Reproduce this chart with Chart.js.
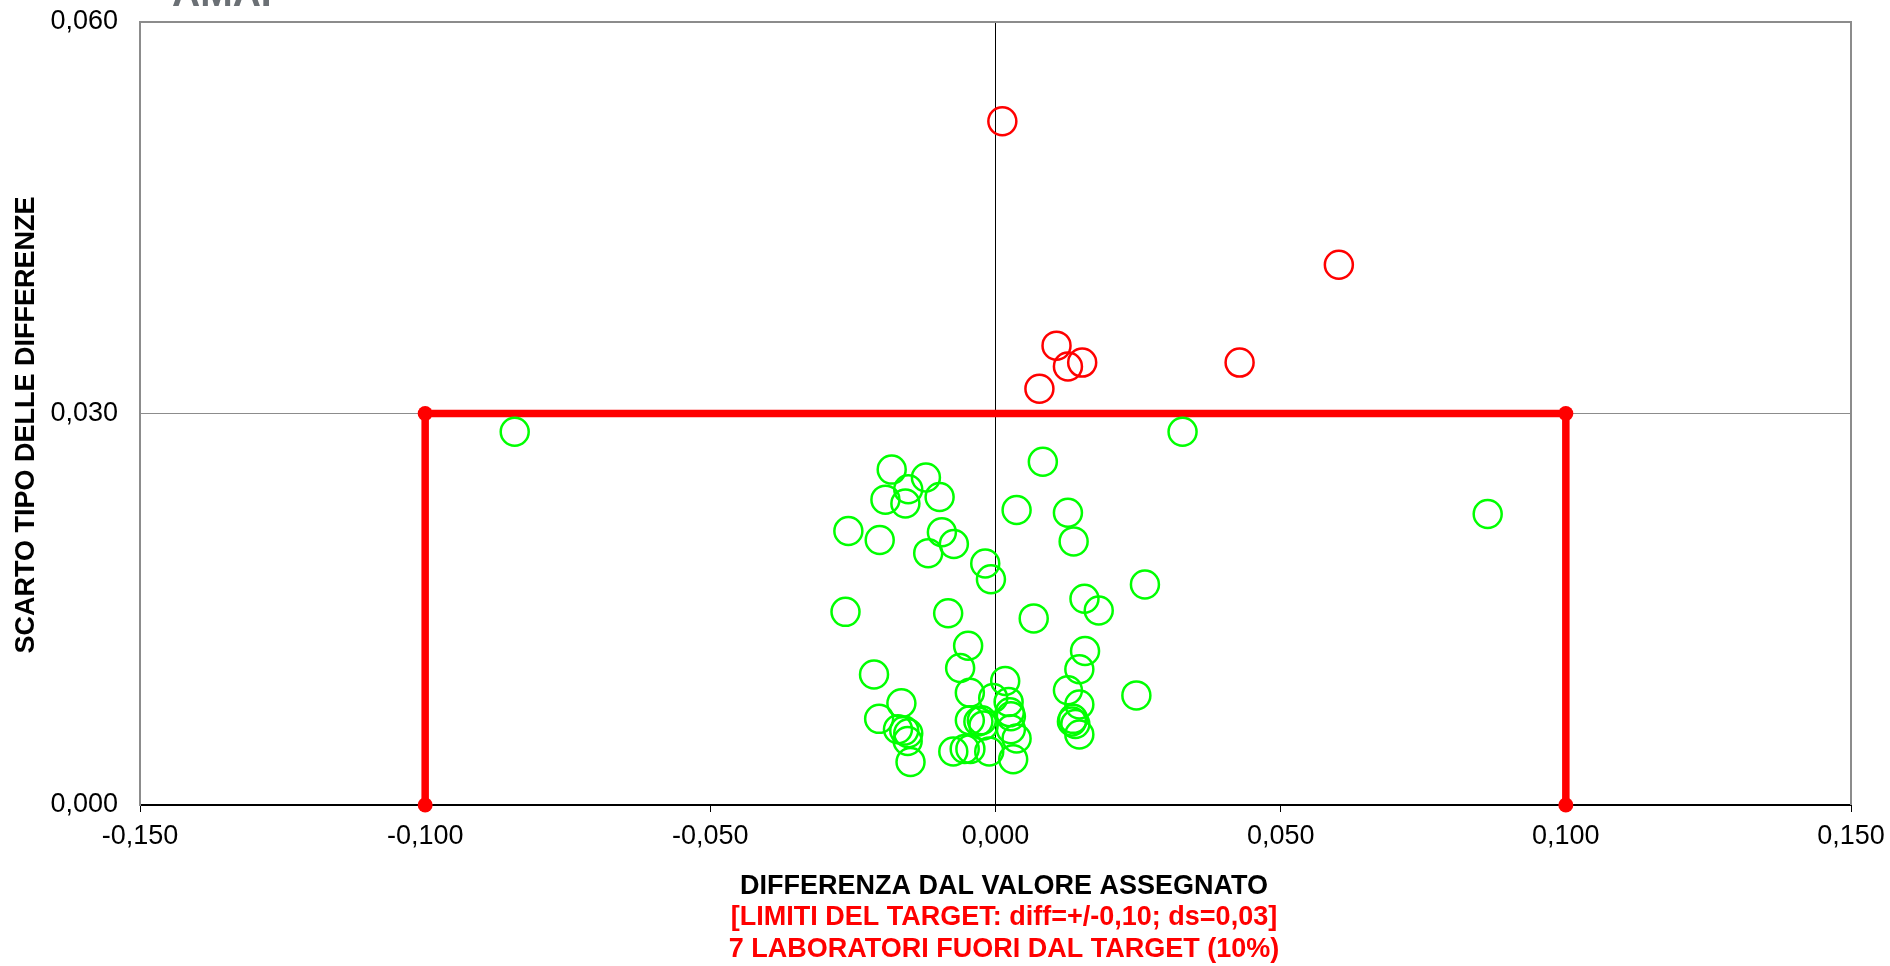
<!DOCTYPE html>
<html>
<head>
<meta charset="utf-8">
<title>Scarto tipo vs differenza</title>
<script src="https://cdn.jsdelivr.net/npm/chart.js@4.4.1/dist/chart.umd.min.js"></script>
<style>
  html, body { margin: 0; padding: 0; background: #ffffff; }
  #wrap { width: 1890px; height: 966px; position: relative; }
</style>
</head>
<body>
<div id="wrap"><canvas id="chart" width="1890" height="966"></canvas></div>
<script>
// Laboratories inside the target (difference, standard deviation of differences)
const inTargetX = [
  -0.0843, 0.0328, 0.0863, -0.0182, -0.0122, -0.0153, -0.0193, -0.0158, -0.0098, 0.0083,
  -0.0258, -0.0203, -0.0094, -0.0073, -0.0118, 0.0037, 0.0127, 0.0137, -0.0018, -0.0008,
  0.0262, 0.0156, 0.0181, 0.0067, -0.0263, -0.0083, -0.0048, -0.0062, 0.0157, 0.0147,
  -0.0213, 0.0247, 0.0127, 0.0147, 0.0134, 0.0136, 0.0147, -0.0165, -0.0204, -0.0171,
  -0.0153, -0.0154, -0.0149, 0.0017, -0.0045, -0.0004, 0.0023, -0.0045, -0.0024, 0.0027,
  -0.0021, 0.0027, 0.0037, -0.0074, -0.0054, -0.0044, -0.0011, 0.0031, -0.0030, 0.0025,
  -0.0160, 0.0140
];
const inTargetY = [
  0.0286, 0.0286, 0.0223, 0.0257, 0.0251, 0.0242, 0.0234, 0.0231, 0.0236, 0.0263,
  0.0210, 0.0203, 0.0209, 0.0200, 0.0193, 0.0226, 0.0224, 0.0202, 0.0185, 0.0173,
  0.0169, 0.0158, 0.0149, 0.0143, 0.0148, 0.0147, 0.0122, 0.0105, 0.0118, 0.0104,
  0.0100, 0.0084, 0.0088, 0.0077, 0.0064, 0.0066, 0.0054, 0.0078, 0.0066, 0.0058,
  0.0055, 0.0049, 0.0033, 0.0095, 0.0086, 0.0082, 0.0079, 0.0065, 0.0065, 0.0068,
  0.0061, 0.0058, 0.0051, 0.0041, 0.0043, 0.0043, 0.0041, 0.0035, 0.0064, 0.0071,
  0.0057, 0.0062
];

// Laboratories outside the target
const outTargetX = [0.0012, 0.0107, 0.0127, 0.0152, 0.0077, 0.0428, 0.0602];
const outTargetY = [0.0524, 0.0352, 0.0336, 0.0339, 0.0319, 0.0339, 0.0414];

// Target limits: diff = +/-0,10 ; ds = 0,03
const targetX = [-0.10, -0.10, 0.10, 0.10];
const targetY = [0.000, 0.030, 0.030, 0.000];

// Axis ticks
const xTicks = [-0.15, -0.10, -0.05, 0.00, 0.05, 0.10, 0.15];
const yTicks = [0.000, 0.030, 0.060];

// Texts
const yTitle = 'SCARTO TIPO DELLE DIFFERENZE';
const xTitle = 'DIFFERENZA DAL VALORE ASSEGNATO';
const noteLines = [
  '[LIMITI DEL TARGET: diff=+/-0,10; ds=0,03]',
  '7 LABORATORI FUORI DAL TARGET (10%)'
];
const logoText = 'AMAF';

const zip = (xs, ys) => xs.map((x, i) => ({ x: x, y: ys[i] }));
const fmt = v => v.toFixed(3).replace('.', ',');
const FONT = '"Liberation Sans", Arial, sans-serif';

// Frame, right border and the free texts around the plot
const decorations = {
  id: 'decorations',
  beforeDatasetsDraw(chart) {
    const { ctx, chartArea: a } = chart;
    ctx.save();
    ctx.strokeStyle = '#8c8c8c';
    ctx.lineWidth = 2;
    ctx.beginPath();
    ctx.moveTo(a.left, a.top);
    ctx.lineTo(a.right, a.top);
    ctx.lineTo(a.right, a.bottom);
    ctx.stroke();
    ctx.restore();
  },
  afterDraw(chart) {
    const { ctx } = chart;
    ctx.save();
    // partly hidden logo at the very top
    ctx.fillStyle = '#6b7075';
    ctx.font = 'bold 39px ' + FONT;
    ctx.textAlign = 'left';
    ctx.textBaseline = 'alphabetic';
    ctx.fillText(logoText, 172, 6);

    ctx.fillStyle = '#000000';
    ctx.font = 'bold 27px ' + FONT;
    ctx.textAlign = 'center';
    ctx.textBaseline = 'middle';
    // vertical axis title
    ctx.save();
    ctx.translate(27, 425);
    ctx.rotate(-Math.PI / 2);
    ctx.fillText(yTitle, 0, 0);
    ctx.restore();
    // horizontal axis title and notes
    const cx = 1004;
    ctx.fillText(xTitle, cx, 887);
    ctx.fillStyle = '#ff0000';
    ctx.fillText(noteLines[0], cx, 918);
    ctx.fillText(noteLines[1], cx, 950);
    ctx.restore();
  }
};

new Chart(document.getElementById('chart'), {
  type: 'scatter',
  data: {
    datasets: [
      {
        label: 'Limiti del target',
        data: zip(targetX, targetY),
        showLine: true,
        borderColor: '#ff0000',
        backgroundColor: '#ff0000',
        borderWidth: 7.5,
        pointRadius: 7.5,
        pointBorderWidth: 0,
        pointBackgroundColor: '#ff0000',
        clip: false,
        order: 3
      },
      {
        label: 'Fuori target',
        data: zip(outTargetX, outTargetY),
        borderColor: '#ff0000',
        backgroundColor: 'rgba(0,0,0,0)',
        pointRadius: 14,
        pointBorderWidth: 2.5,
        order: 1
      },
      {
        label: 'Nel target',
        data: zip(inTargetX, inTargetY),
        borderColor: '#00ff00',
        backgroundColor: 'rgba(0,0,0,0)',
        pointRadius: 14,
        pointBorderWidth: 2.5,
        order: 2
      }
    ]
  },
  options: {
    responsive: false,
    animation: false,
    events: [],
    layout: { padding: { left: 0, right: 39, top: 22, bottom: 0 } },
    plugins: {
      legend: { display: false },
      tooltip: { enabled: false },
      title: { display: false }
    },
    scales: {
      x: {
        type: 'linear',
        min: xTicks[0],
        max: xTicks[xTicks.length - 1],
        afterBuildTicks(scale) { scale.ticks = xTicks.map(v => ({ value: v })); },
        afterFit(scale) { scale.height = 161; scale.paddingLeft = 0; scale.paddingRight = 0; },
        ticks: {
          callback: v => fmt(v),
          color: '#000000',
          font: { family: FONT, size: 27 },
          padding: 8,
          maxRotation: 0,
          autoSkip: false
        },
        grid: {
          color: c => (c.tick && Math.abs(c.tick.value) < 1e-9) ? '#000000' : 'rgba(0,0,0,0)',
          lineWidth: 1,
          drawTicks: true,
          tickLength: 7,
          tickColor: '#000000',
          tickWidth: 1
        },
        border: { display: true, color: '#000000', width: 2 }
      },
      y: {
        type: 'linear',
        min: yTicks[0],
        max: yTicks[yTicks.length - 1],
        afterBuildTicks(scale) { scale.ticks = yTicks.map(v => ({ value: v })); },
        afterFit(scale) { scale.width = 140; scale.paddingTop = 0; scale.paddingBottom = 0; },
        ticks: {
          callback: v => fmt(v),
          color: '#000000',
          font: { family: FONT, size: 27 },
          padding: 22
        },
        grid: {
          color: '#8c8c8c',
          lineWidth: 1,
          drawTicks: false
        },
        border: { display: true, color: '#8c8c8c', width: 2 }
      }
    }
  },
  plugins: [decorations]
});
</script>
</body>
</html>
